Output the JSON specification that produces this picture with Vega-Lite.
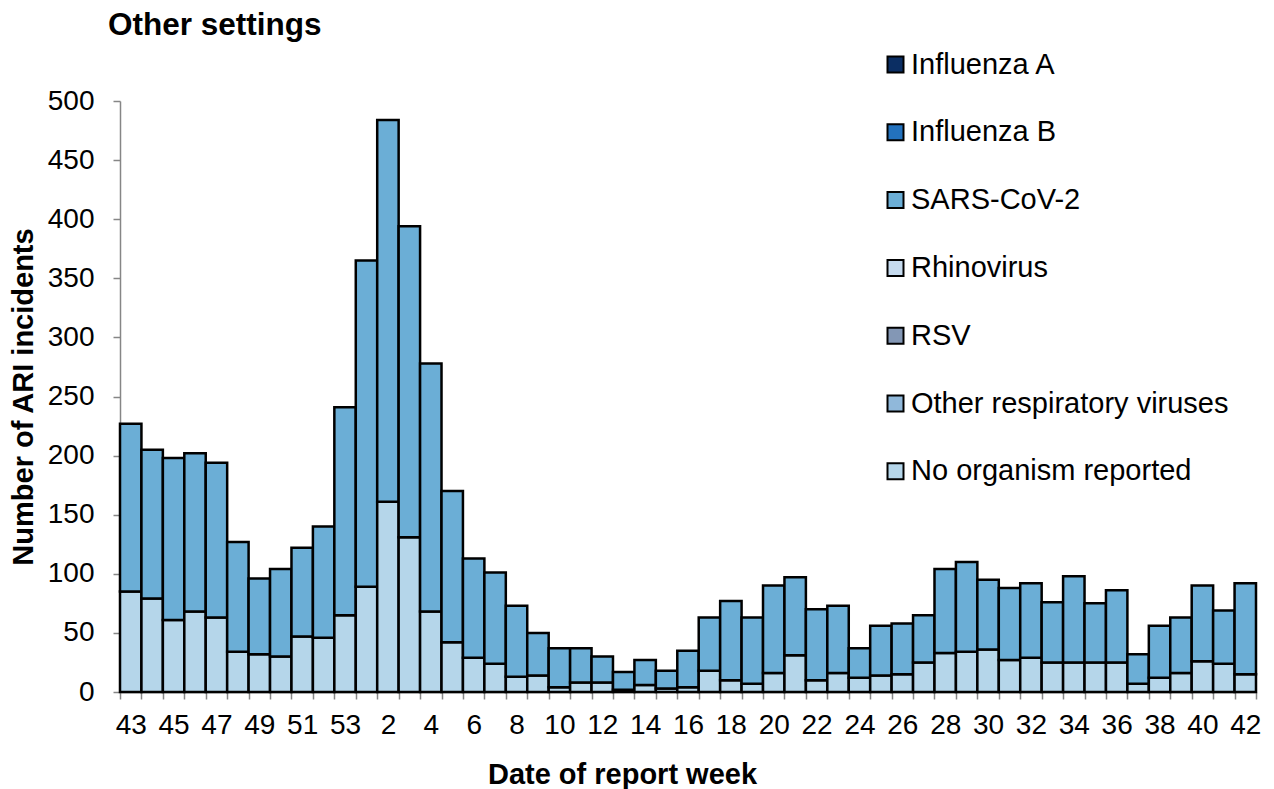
{
  "$schema": "https://vega.github.io/schema/vega-lite/v6.json",
  "width": 1136,
  "height": 591,
  "autosize": "none",
  "padding": {"left": 120, "top": 101, "right": 18, "bottom": 97},
  "background": "white",
  "config": {"font": "Liberation Sans", "view": {"stroke": null}},
  "title": {"text": "Other settings", "anchor": "start", "frame": "group", "dx": -12, "dy": 33, "fontSize": 31.5, "fontWeight": "bold", "font": "Liberation Sans", "color": "black", "baseline": "alphabetic", "offset": 17},
  "data": {"values": [
    {"week": "43", "No organism reported": 85, "SARS-CoV-2": 142},
    {"week": "44", "No organism reported": 79, "SARS-CoV-2": 126},
    {"week": "45", "No organism reported": 61, "SARS-CoV-2": 137},
    {"week": "46", "No organism reported": 68, "SARS-CoV-2": 134},
    {"week": "47", "No organism reported": 63, "SARS-CoV-2": 131},
    {"week": "48", "No organism reported": 34, "SARS-CoV-2": 93},
    {"week": "49", "No organism reported": 32, "SARS-CoV-2": 64},
    {"week": "50", "No organism reported": 30, "SARS-CoV-2": 74},
    {"week": "51", "No organism reported": 47, "SARS-CoV-2": 75},
    {"week": "52", "No organism reported": 46, "SARS-CoV-2": 94},
    {"week": "53", "No organism reported": 65, "SARS-CoV-2": 176},
    {"week": "1", "No organism reported": 89, "SARS-CoV-2": 276},
    {"week": "2", "No organism reported": 161, "SARS-CoV-2": 323},
    {"week": "3", "No organism reported": 131, "SARS-CoV-2": 263},
    {"week": "4", "No organism reported": 68, "SARS-CoV-2": 210},
    {"week": "5", "No organism reported": 42, "SARS-CoV-2": 128},
    {"week": "6", "No organism reported": 29, "SARS-CoV-2": 84},
    {"week": "7", "No organism reported": 24, "SARS-CoV-2": 77},
    {"week": "8", "No organism reported": 13, "SARS-CoV-2": 60},
    {"week": "9", "No organism reported": 14, "SARS-CoV-2": 36},
    {"week": "10", "No organism reported": 4, "SARS-CoV-2": 33},
    {"week": "11", "No organism reported": 8, "SARS-CoV-2": 29},
    {"week": "12", "No organism reported": 8, "SARS-CoV-2": 22},
    {"week": "13", "No organism reported": 2, "SARS-CoV-2": 15},
    {"week": "14", "No organism reported": 6, "SARS-CoV-2": 21},
    {"week": "15", "No organism reported": 3, "SARS-CoV-2": 15},
    {"week": "16", "No organism reported": 4, "SARS-CoV-2": 31},
    {"week": "17", "No organism reported": 18, "SARS-CoV-2": 45},
    {"week": "18", "No organism reported": 10, "SARS-CoV-2": 67},
    {"week": "19", "No organism reported": 7, "SARS-CoV-2": 56},
    {"week": "20", "No organism reported": 16, "SARS-CoV-2": 74},
    {"week": "21", "No organism reported": 31, "SARS-CoV-2": 66},
    {"week": "22", "No organism reported": 10, "SARS-CoV-2": 60},
    {"week": "23", "No organism reported": 16, "SARS-CoV-2": 57},
    {"week": "24", "No organism reported": 12, "SARS-CoV-2": 25},
    {"week": "25", "No organism reported": 14, "SARS-CoV-2": 42},
    {"week": "26", "No organism reported": 15, "SARS-CoV-2": 43},
    {"week": "27", "No organism reported": 25, "SARS-CoV-2": 40},
    {"week": "28", "No organism reported": 33, "SARS-CoV-2": 71},
    {"week": "29", "No organism reported": 34, "SARS-CoV-2": 76},
    {"week": "30", "No organism reported": 36, "SARS-CoV-2": 59},
    {"week": "31", "No organism reported": 27, "SARS-CoV-2": 61},
    {"week": "32", "No organism reported": 29, "SARS-CoV-2": 63},
    {"week": "33", "No organism reported": 25, "SARS-CoV-2": 51},
    {"week": "34", "No organism reported": 25, "SARS-CoV-2": 73},
    {"week": "35", "No organism reported": 25, "SARS-CoV-2": 50},
    {"week": "36", "No organism reported": 25, "SARS-CoV-2": 61},
    {"week": "37", "No organism reported": 7, "SARS-CoV-2": 25},
    {"week": "38", "No organism reported": 12, "SARS-CoV-2": 44},
    {"week": "39", "No organism reported": 16, "SARS-CoV-2": 47},
    {"week": "40", "No organism reported": 26, "SARS-CoV-2": 64},
    {"week": "41", "No organism reported": 24, "SARS-CoV-2": 45},
    {"week": "42", "No organism reported": 15, "SARS-CoV-2": 77}
  ]},
  "transform": [{"fold": ["No organism reported", "SARS-CoV-2"], "as": ["series", "count"]}],
  "mark": {"type": "bar", "stroke": "black", "strokeWidth": 2.5},
  "encoding": {
    "x": {
      "field": "week", "type": "ordinal", "sort": null,
      "scale": {"paddingInner": 0, "paddingOuter": 0},
      "axis": {
        "title": "Date of report week", "titleFontSize": 29, "titleFontWeight": "bold", "titleColor": "black",
        "titleX": 502, "titlePadding": 21,
        "labelAngle": 0, "labelFontSize": 28, "labelColor": "black", "labelPadding": 12, "labelOverlap": false,
        "labelExpr": "(toNumber(datum.value) >= 43 ? toNumber(datum.value) % 2 == 1 : toNumber(datum.value) % 2 == 0) ? datum.value : ''",
        "tickBand": "extent", "tickSize": 7, "tickColor": "#868686", "tickWidth": 1.5,
        "domainColor": "#868686", "domainWidth": 1.5
      }
    },
    "y": {
      "field": "count", "type": "quantitative", "stack": "zero",
      "scale": {"domain": [0, 500], "nice": false},
      "axis": {
        "title": "Number of ARI incidents", "titleFontSize": 29, "titleFontWeight": "bold", "titleColor": "black", "titlePadding": 9,
        "values": [0, 50, 100, 150, 200, 250, 300, 350, 400, 450, 500],
        "labelFontSize": 28, "labelColor": "black", "labelPadding": 19,
        "tickSize": 7, "tickColor": "#868686", "tickWidth": 1.5,
        "domainColor": "#868686", "domainWidth": 1.5, "grid": false
      }
    },
    "color": {
      "field": "series", "type": "nominal",
      "scale": {
        "domain": ["Influenza A", "Influenza B", "SARS-CoV-2", "Rhinovirus", "RSV", "Other respiratory viruses", "No organism reported"],
        "range": ["#0B2E63", "#2372BE", "#6BAED6", "#C6DBEF", "#8397B5", "#90B8DA", "#B5D6EA"]
      },
      "legend": {
        "title": null, "orient": "none", "legendX": 761, "legendY": -51,
        "symbolType": "square", "symbolSize": 256, "symbolStrokeColor": "black", "symbolStrokeWidth": 2, "symbolOpacity": 1,
        "labelFontSize": 29, "labelColor": "black", "labelOffset": 1, "rowPadding": 37.8, "labelLimit": 500
      }
    },
    "order": {"field": "series", "sort": "ascending"}
  }
}
